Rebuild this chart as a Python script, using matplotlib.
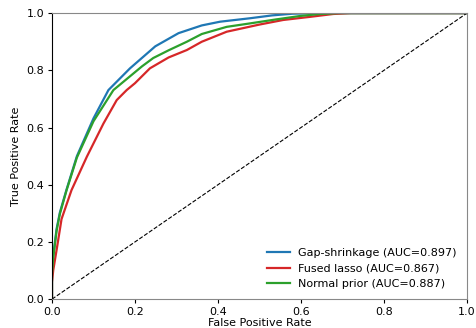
import matplotlib
matplotlib.use("Agg")
import matplotlib.pyplot as plt

# ROC points
gap_fpr = [0.0, 0.0, 0.003, 0.011, 0.019, 0.035, 0.060, 0.100, 0.136, 0.188, 0.249,
           0.305, 0.361, 0.405, 0.477, 0.530, 0.580, 0.650, 1.0]
gap_tpr = [0.0, 0.10, 0.152, 0.245, 0.303, 0.383, 0.500, 0.632, 0.731, 0.807, 0.884,
           0.930, 0.957, 0.970, 0.982, 0.992, 0.998, 1.0, 1.0]

fused_fpr = [0.0, 0.0, 0.003, 0.011, 0.023, 0.047, 0.084, 0.124, 0.156, 0.180, 0.200,
             0.236, 0.281, 0.325, 0.361, 0.421, 0.500, 0.557, 0.622, 0.678, 0.720, 1.0]
fused_tpr = [0.0, 0.06, 0.101, 0.171, 0.280, 0.381, 0.498, 0.614, 0.696, 0.731, 0.755,
             0.807, 0.845, 0.871, 0.900, 0.935, 0.960, 0.976, 0.987, 0.997, 1.0, 1.0]

normal_fpr = [0.0, 0.0, 0.003, 0.011, 0.019, 0.035, 0.060, 0.100, 0.148, 0.217,
              0.244, 0.281, 0.325, 0.361, 0.421, 0.477, 0.540, 0.598, 0.646, 0.690, 1.0]
normal_tpr = [0.0, 0.09, 0.145, 0.238, 0.298, 0.380, 0.495, 0.622, 0.731, 0.814,
              0.843, 0.870, 0.900, 0.927, 0.952, 0.964, 0.978, 0.990, 0.997, 1.0, 1.0]

labels = ["Gap-shrinkage (AUC=0.897)", "Fused lasso (AUC=0.867)", "Normal prior (AUC=0.887)"]
colors = ["#1f77b4", "#d62728", "#2ca02c"]

fig = plt.figure(figsize=(4.77, 3.28), dpi=100)
ax = fig.add_axes([0.109, 0.088, 0.870, 0.872])

ax.plot(gap_fpr, gap_tpr, color=colors[0], lw=1.6, label=labels[0])
ax.plot(fused_fpr, fused_tpr, color=colors[1], lw=1.6, label=labels[1])
ax.plot(normal_fpr, normal_tpr, color=colors[2], lw=1.6, label=labels[2])
ax.plot([0, 1], [0, 1], "k--", lw=0.8)

ax.set_xlim(0, 1)
ax.set_ylim(0, 1)
ax.set_xlabel("False Positive Rate", fontsize=8, labelpad=1)
ax.set_ylabel("True Positive Rate", fontsize=8)
ax.tick_params(labelsize=8, length=3, pad=2.5)

for side in ["top", "bottom", "right"]:
    ax.spines[side].set_color("#888888")
ax.spines["left"].set_color("black")

ax.legend(loc="lower right", fontsize=8, frameon=False)

fig.savefig("out.png", dpi=100)
